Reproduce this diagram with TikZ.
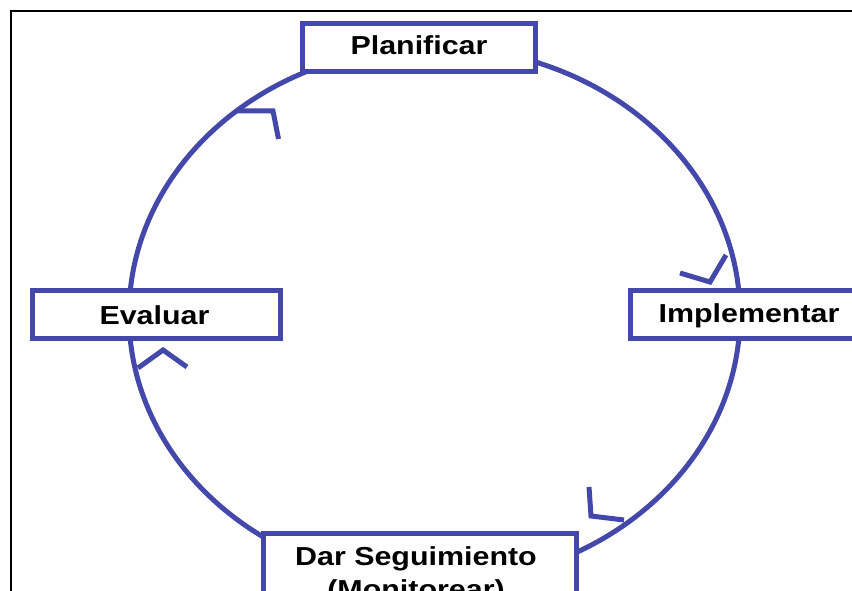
\documentclass[tikz,border=0pt]{standalone}
\usepackage{fontspec}
\newfontfamily\lblfont{Liberation Sans}[FakeStretch=1.17]
\definecolor{cycblue}{RGB}{67,72,170}
\tikzset{
  box/.style={draw=cycblue, line width=5pt, fill=white, rectangle, inner sep=0pt},
  lbl/.style={font=\lblfont\bfseries\fontsize{26}{30}\selectfont, inner sep=0pt, anchor=base, align=center, text=black},
  chev/.style={draw=cycblue, line width=5pt, line join=miter, line cap=butt},
  ring/.style={draw=cycblue, line width=5pt}
}
\begin{document}
\begin{tikzpicture}[x=1pt,y=-1pt]
\useasboundingbox (0,0) rectangle (852,591);
\clip (0,0) rectangle (852,591);
% frame
\draw[line width=2pt, black] (10.5,11) rectangle (900,650);
% cycle ring
\draw[ring] (434.5,315) ellipse [x radius=305.5, y radius=268];
% arrow chevrons
\draw[chev] (237,111) -- (273,111) -- (278.5,139);
\draw[chev] (680,273) -- (710,282) -- (726,255);
\draw[chev] (589,487) -- (591,516) -- (624,520);
\draw[chev] (138,368) -- (163,350) -- (187,367);
% boxes
\node[box, minimum width=233pt, minimum height=48pt] (plan) at (419,48) {};
\node[box, minimum width=248pt, minimum height=47.5pt] (eval) at (156.5,314.25) {};
\node[box, minimum width=300pt, minimum height=48.5pt] (impl) at (780,314.25) {};
\node[box, minimum width=312.3pt, minimum height=90pt] (dar) at (419.85,578) {};
% labels
\node[lbl] (planT) at (419,55) {Planificar};
\node[lbl] (evalT) at (154.5,324) {Evaluar};
\node[lbl] (implT) at (749,322) {Implementar};
\node[lbl] (darT) at (416,565) {Dar Seguimiento};
\node[lbl] (darT2) at (416,598) {(Monitorear)};
\end{tikzpicture}
\end{document}
